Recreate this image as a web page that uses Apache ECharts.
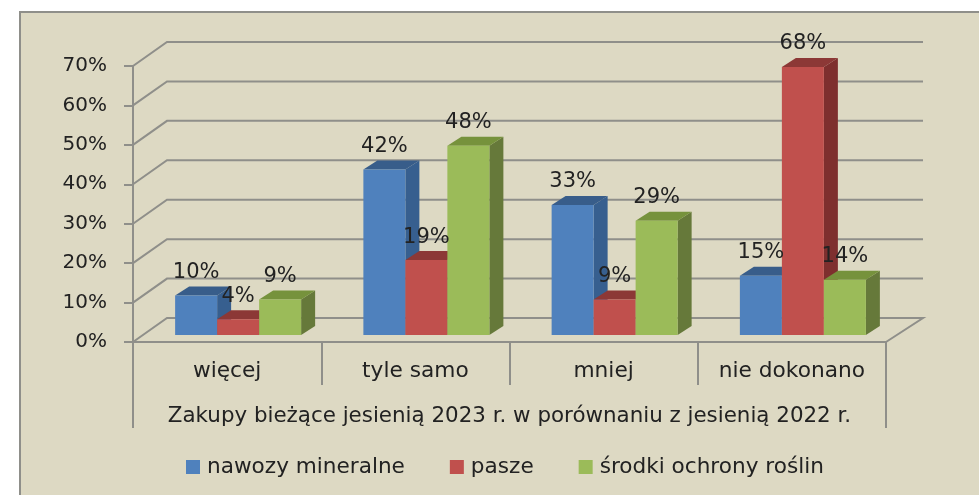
<!DOCTYPE html>
<html><head><meta charset="utf-8">
<style>html,body{margin:0;padding:0;background:#fff}#c{width:979px;height:495px}</style>
<script src="https://cdn.jsdelivr.net/npm/echarts@6/dist/echarts.min.js"></script>
</head><body><div id="c"></div>
<script>
const categories = ['więcej', 'tyle samo', 'mniej', 'nie dokonano'];
const nawozy = [10, 42, 33, 15];
const pasze = [4, 19, 9, 68];
const srodki = [9, 48, 29, 14];
const yTicks = [0, 10, 20, 30, 40, 50, 60, 70];
const axisTitle = 'Zakupy bieżące jesienią 2023 r. w porównaniu z jesienią 2022 r.';

const FONT = '"DejaVu Sans"', TXT = '#222222', GREY = '#8f8f8a', BG = '#ddd9c3';
const DX = 34, DY = 24, BDX = 14, BDY = 9, BASE = 7, SHIFT = 11, BARW = 42 / 188.25, LONG = 86;

function wall(params, api) {
  const cs = params.coordSys, v = api.value(0), y = api.coord([0, v])[1];
  const L = cs.x, R = cs.x + cs.width, st = { stroke: GREY, lineWidth: 2, fill: null };
  const pts = v === 0
    ? [[L, y], [L + DX, y - DY], [R + DX + 3, y - DY], [R, y]]
    : [[L, y], [L + DX, y - DY], [R + DX + 3, y - DY]];
  const kids = [{ type: 'polyline', shape: { points: pts }, style: st }];
  if (v === 0) {
    kids.push({ type: 'line', shape: { x1: L, y1: y, x2: L, y2: y + LONG }, style: st });
    kids.push({ type: 'line', shape: { x1: R, y1: y, x2: R, y2: y + LONG }, style: st });
  }
  return { type: 'group', children: kids };
}

function barSeries(name, values, slot, front, top, side) {
  return {
    type: 'custom', name, coordinateSystem: 'cartesian2d', itemStyle: { color: front },
    encode: { x: 0, y: 1 }, clip: false, silent: true,
    data: values.map((v, i) => [i, v]),
    renderItem(params, api) {
      const p = api.coord([api.value(0), api.value(1)]), z = api.coord([api.value(0), 0]);
      const w = api.size([1, 0])[0] * BARW;
      const x = p[0] + SHIFT + (slot - 0.5) * w, yt = p[1] - BASE, yb = z[1] - BASE;
      return { type: 'group', children: [
        { type: 'polygon', shape: { points: [[x + w, yt], [x + w + BDX, yt - BDY], [x + w + BDX, yb - BDY], [x + w, yb]] }, style: { fill: side } },
        { type: 'polygon', shape: { points: [[x, yt], [x + BDX, yt - BDY], [x + w + BDX, yt - BDY], [x + w, yt]] }, style: { fill: top } },
        { type: 'rect', shape: { x, y: yt, width: w, height: yb - yt }, style: { fill: front } },
        { type: 'text', z2: 100, style: { x: x + w / 2, y: yt - 23, text: api.value(1) + '%', fill: TXT, font: '21px ' + FONT, align: 'center', verticalAlign: 'middle' } }
      ] };
    }
  };
}

const chart = echarts.init(document.getElementById('c'), null, { renderer: 'canvas', width: 979, height: 495 });
chart.setOption({
  animation: false,
  backgroundColor: '#ffffff',
  graphic: [{ type: 'rect', z: -10, shape: { x: 20, y: 12, width: 970, height: 495 }, style: { fill: BG, stroke: GREY, lineWidth: 2 } }],
  grid: { left: 133, right: 93, top: 66, bottom: 153, containLabel: false },
  legend: {
    data: ['nawozy mineralne', 'pasze', 'środki ochrony roślin'],
    left: 181, top: 451, icon: 'rect', itemWidth: 14, itemHeight: 14, itemGap: 45,
    textStyle: { fontFamily: FONT, fontSize: 21.6, color: TXT, padding: [0, 0, 0, 2] }
  },
  xAxis: {
    type: 'category', data: categories,
    name: axisTitle, nameLocation: 'middle', nameGap: 64,
    nameTextStyle: { fontFamily: FONT, fontSize: 21.4, color: TXT },
    axisLine: { lineStyle: { color: GREY, width: 2 } },
    axisTick: { show: true, interval: 0, length: 43, lineStyle: { color: GREY, width: 2 } },
    axisLabel: { interval: 0, margin: 18, fontFamily: FONT, fontSize: 21.7, color: TXT },
    splitLine: { show: false }
  },
  yAxis: {
    type: 'value', min: 0, max: 70, interval: 10,
    axisLine: { show: true, lineStyle: { color: GREY, width: 2 } },
    axisTick: { show: true, length: 9, lineStyle: { color: GREY, width: 2 } },
    axisLabel: { margin: 26, fontFamily: FONT, fontSize: 20, color: TXT, formatter: '{value}%' },
    splitLine: { show: false }
  },
  series: [
    { type: 'custom', name: 'siatka', coordinateSystem: 'cartesian2d', clip: false, silent: true, encode: { y: 0 }, data: yTicks.map(v => [v]), renderItem: wall },
    barSeries('nawozy mineralne', nawozy, -1, '#4f81bd', '#385d8a', '#375f8f'),
    barSeries('pasze', pasze, 0, '#c0504d', '#8c3836', '#7e2f2e'),
    barSeries('środki ochrony roślin', srodki, 1, '#9bbb59', '#76923c', '#66793a')
  ]
});
</script></body></html>
